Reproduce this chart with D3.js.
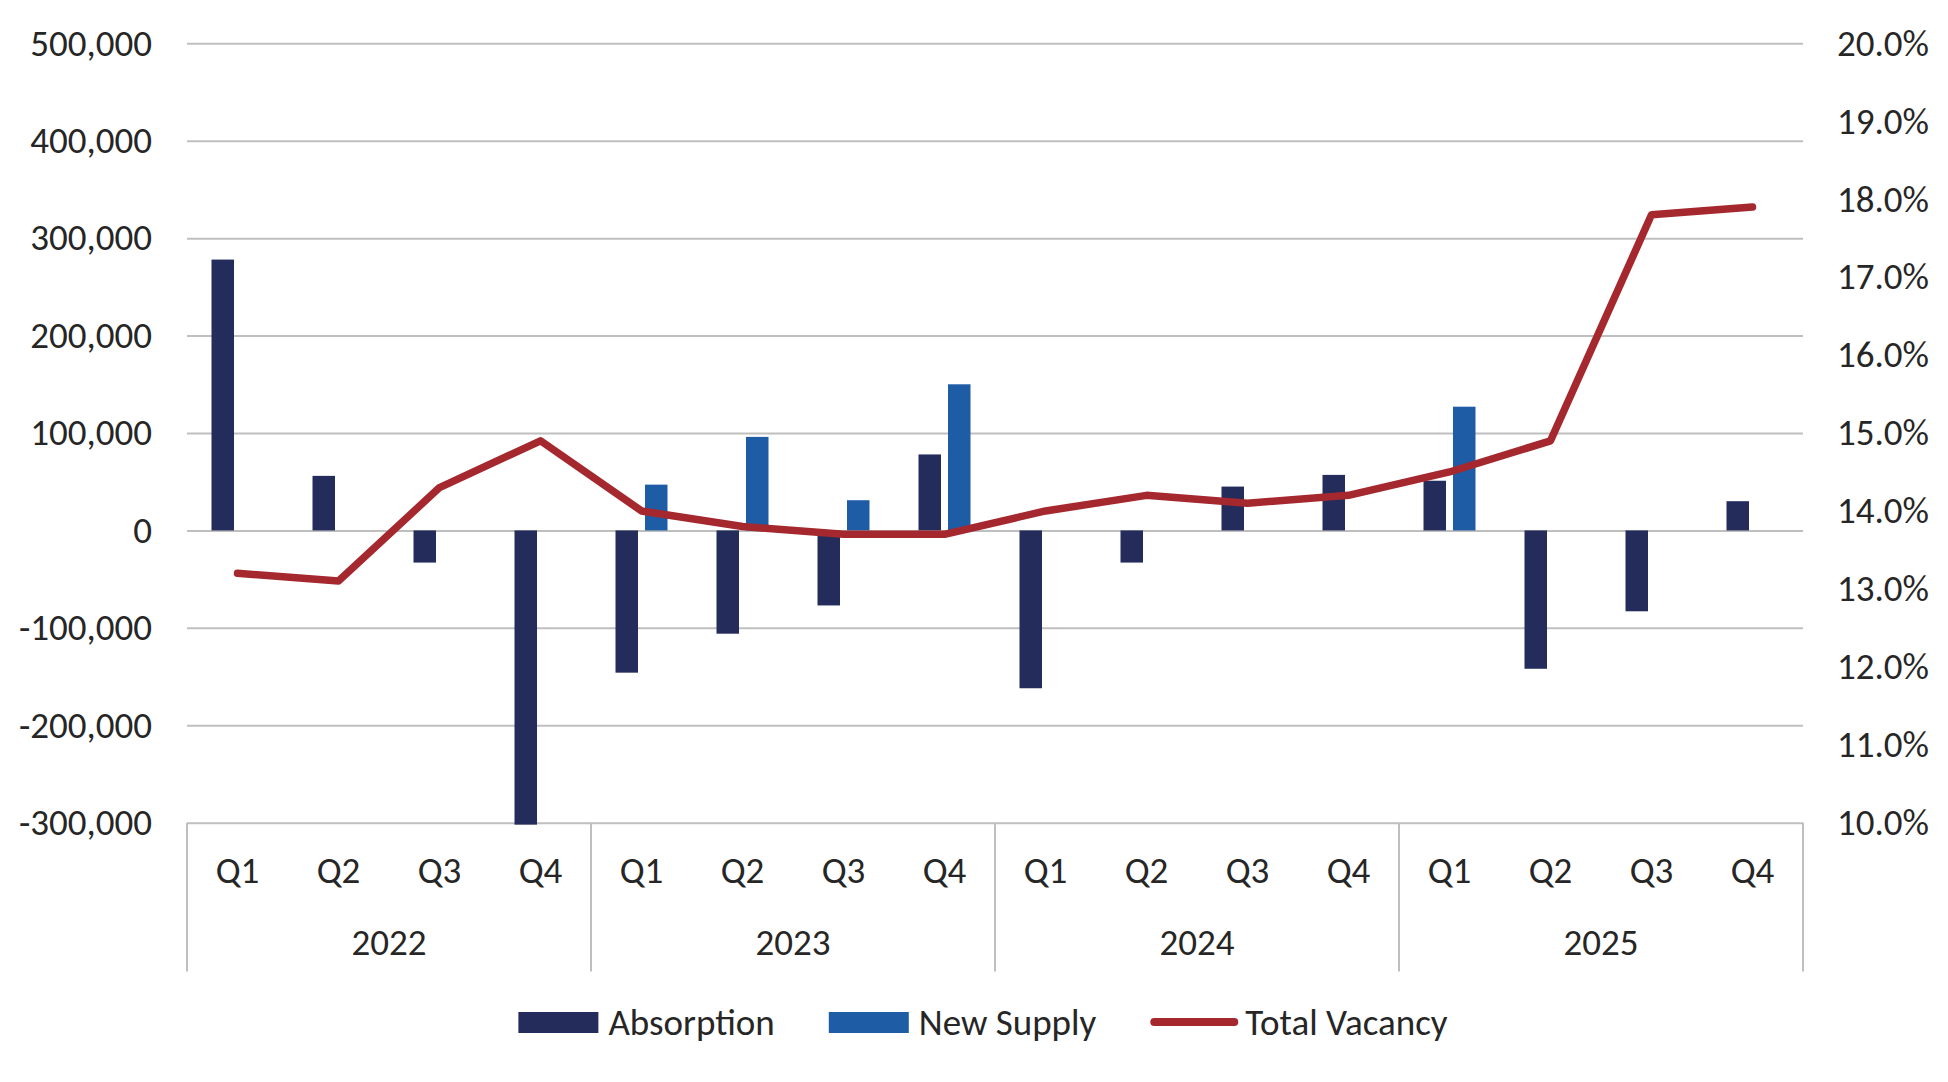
<!DOCTYPE html>
<html>
<head>
<meta charset="utf-8">
<script src="https://cdn.jsdelivr.net/npm/d3@7"></script>
<style>
    body { margin: 0; background: #fff; }
    text { font-family: Carlito, Calibri, Lato, sans-serif; fill: #262626; }
</style>
</head>
<body>
<div id="chart"></div>
<script>
// data
const years = ["2022", "2023", "2024", "2025"];
const quarters = ["Q1", "Q2", "Q3", "Q4"];
const absorption = [278000, 56000, -33000, -302000, -146000, -106000, -77000, 78000,
    -162000, -33000, 45000, 57000, 51000, -142000, -83000, 30000];
const newSupply = [null, null, null, null, 47000, 96000, 31000, 150000,
    null, null, null, null, 127000, null, null, null];
const vacancy = [13.2, 13.1, 14.3, 14.9, 14.0, 13.8, 13.7, 13.7,
    14.0, 14.2, 14.1, 14.2, 14.5, 14.9, 17.8, 17.9];
const leftTicks = [-300000, -200000, -100000, 0, 100000, 200000, 300000, 400000, 500000];
const rightTicks = [10, 11, 12, 13, 14, 15, 16, 17, 18, 19, 20];
const seriesNames = ["Absorption", "New Supply", "Total Vacancy"];

const colors = { "Absorption": "#242C5C", "New Supply": "#1F5CA6", "Total Vacancy": "#A5282E" };

const width = 1948, height = 1082;
const plotLeft = 187, plotRight = 1803, plotTop = 43.3, plotBottom = 822.7;
const fontSize = 37;

let categories = [];
years.forEach((yr) => {
    quarters.forEach((q) => { categories.push(yr + " " + q); });
});

let svg = d3.select("#chart").append("svg").attr("width", width).attr("height", height);

let x = d3.scaleBand().domain(categories).range([plotLeft, plotRight]);
let xSub = d3.scaleBand().domain(["Absorption", "New Supply"]).range([-26, 26]).paddingInner(0.237);
let y = d3.scaleLinear().domain([-300000, 500000]).range([plotBottom, plotTop]);
let y2 = d3.scaleLinear().domain([10, 20]).range([plotBottom, plotTop]);

let center = (i) => { return x(categories[i]) + x.bandwidth() / 2; };

// gridlines + left labels
let yAxis = d3.axisLeft(y).tickValues(leftTicks).tickSize(-(plotRight - plotLeft)).tickPadding(35)
    .tickFormat((d) => { return d3.format(",")(d).replace("\u2212", "-"); });
let gy = svg.append("g").attr("transform", `translate(${plotLeft},0)`).call(yAxis);
gy.select(".domain").remove();
gy.selectAll("line").attr("stroke", "#BFBFBF").attr("stroke-width", 2);
gy.selectAll("text").style("font-size", fontSize + "px").attr("fill", "#262626");

// right axis
let y2Axis = d3.axisRight(y2).tickValues(rightTicks).tickSize(0).tickPadding(34)
    .tickFormat((d) => { return d.toFixed(1) + "%"; });
let gy2 = svg.append("g").attr("transform", `translate(${plotRight},0)`).call(y2Axis);
gy2.select(".domain").remove();
gy2.selectAll("text").style("font-size", fontSize + "px").attr("fill", "#262626");

// category axis: group separators, quarter and year labels
let sepBottom = 971.5;
let groupEdges = years.map((yr) => { return x(yr + " Q1"); });
groupEdges.push(plotRight);
svg.append("g").selectAll("line").data(groupEdges).enter().append("line")
    .attr("x1", (d) => { return d; }).attr("x2", (d) => { return d; })
    .attr("y1", plotBottom).attr("y2", sepBottom)
    .attr("stroke", "#BFBFBF").attr("stroke-width", 2);

svg.append("g").selectAll("text").data(categories).enter().append("text")
    .text((d) => { return d.split(" ")[1]; })
    .attr("x", (d, i) => { return center(i); })
    .attr("y", 870).attr("dy", "0.35em")
    .attr("text-anchor", "middle").style("font-size", fontSize + "px");

svg.append("g").selectAll("text").data(years).enter().append("text")
    .text((d) => { return d; })
    .attr("x", (d) => { return (x(d + " Q1") + x(d + " Q4") + x.bandwidth()) / 2; })
    .attr("y", 942).attr("dy", "0.35em")
    .attr("text-anchor", "middle").style("font-size", fontSize + "px");

// bars
let bars = svg.append("g");
let drawBars = (values, name) => {
    let data = values.map((v, i) => { return { v: v, i: i }; }).filter((d) => { return d.v !== null; });
    bars.append("g").selectAll("rect").data(data).enter().append("rect")
        .attr("x", (d) => { return center(d.i) + xSub(name); })
        .attr("width", xSub.bandwidth())
        .attr("y", (d) => { return Math.min(y(d.v), y(0)); })
        .attr("height", (d) => { return Math.abs(y(d.v) - y(0)); })
        .attr("fill", colors[name]);
};
drawBars(absorption, "Absorption");
drawBars(newSupply, "New Supply");

// vacancy line
let line = d3.line().x((d, i) => { return center(i); }).y((d) => { return y2(d); });
svg.append("path").datum(vacancy).attr("d", line)
    .attr("fill", "none").attr("stroke", colors["Total Vacancy"])
    .attr("stroke-width", 7.5).attr("stroke-linejoin", "round").attr("stroke-linecap", "round");

// legend
let legendY = 1022;
let legend = svg.append("g");
let pos = 0;
seriesNames.forEach((name, k) => {
    let item = legend.append("g").attr("transform", `translate(${pos},0)`);
    if (k < 2) {
        item.append("rect").attr("x", 0).attr("y", legendY - 10).attr("width", 80).attr("height", 21)
            .attr("fill", colors[name]);
    }
    else {
        item.append("line").attr("x1", 4).attr("x2", 84).attr("y1", legendY).attr("y2", legendY)
            .attr("stroke", colors[name]).attr("stroke-width", 8).attr("stroke-linecap", "round");
    }
    let t = item.append("text").text(name).attr("x", k < 2 ? 90 : 95).attr("y", legendY).attr("dy", "0.35em")
        .style("font-size", fontSize + "px");
    pos += (k < 2 ? 90 : 95) + t.node().getComputedTextLength() + 54;
});
let legendW = pos - 54;
legend.attr("transform", `translate(${983 - legendW / 2},0)`);
</script>
</body>
</html>
